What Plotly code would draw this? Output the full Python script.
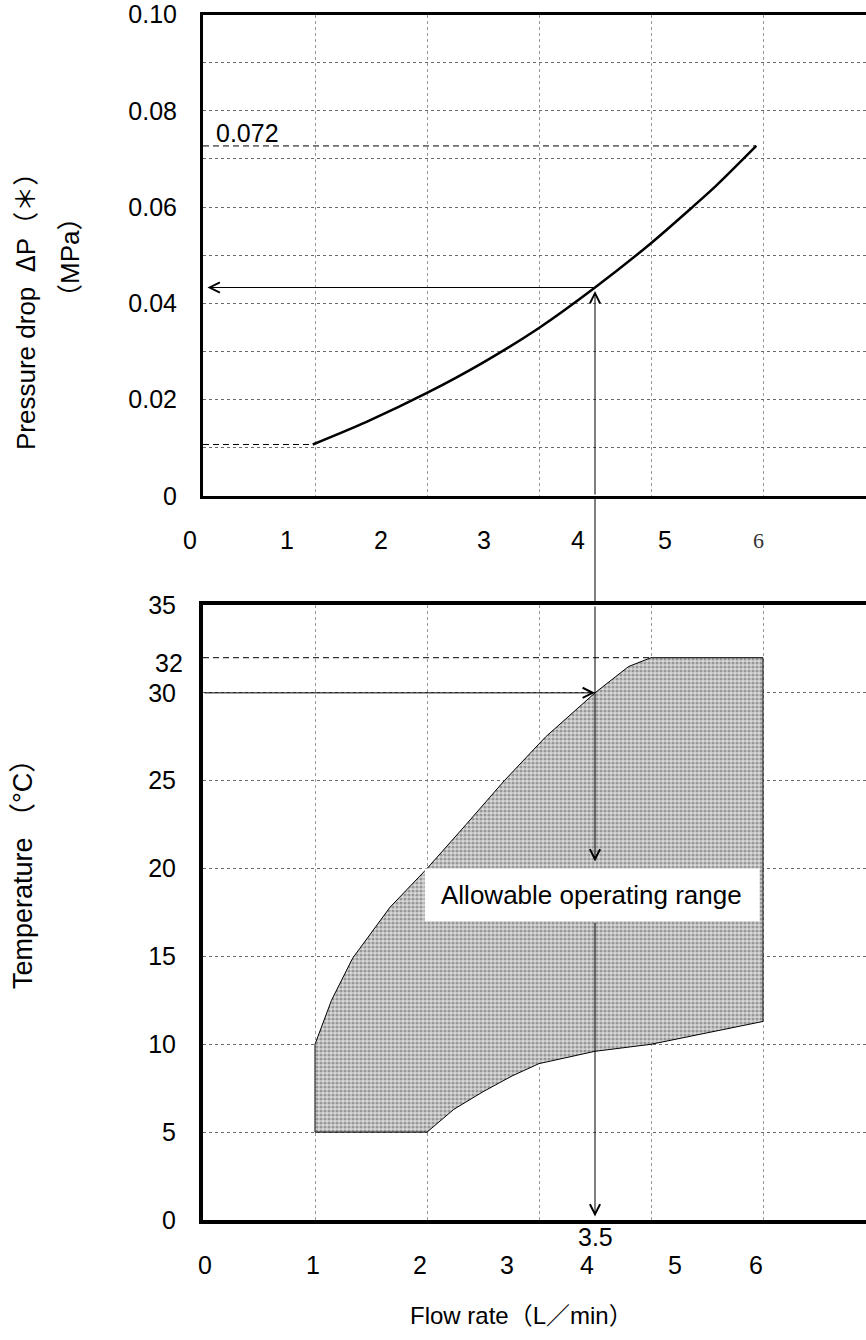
import plotly.graph_objects as go

# ---------------- data ----------------
# Flow positions are in the chart's own grid units (dotted gridlines at 1..5).
dp_flow = [0.98, 1.46, 2.0, 2.5, 3.0, 3.5, 4.0, 4.375, 4.58, 4.94]
dp_mpa = [0.0107, 0.0154, 0.0214, 0.0277, 0.0349, 0.0433, 0.0525, 0.0601, 0.0644, 0.0727]

range_upper_flow = [1.0, 1.0, 1.147, 1.336, 1.67, 2.0, 2.348, 2.69, 3.06, 3.5, 3.8, 4.0, 5.0]
range_upper_temp = [5.0, 10.0, 12.5, 14.9, 17.8, 20.0, 22.5, 25.0, 27.5, 30.0, 31.5, 32.0, 32.0]
range_lower_flow = [5.0, 4.0, 3.5, 3.0, 2.76, 2.5, 2.24, 2.0, 1.0]
range_lower_temp = [11.3, 10.0, 9.6, 8.9, 8.2, 7.3, 6.3, 5.0, 5.0]

grid_flow = [1, 2, 3, 4, 5]
dp_ticks = [0, 0.01, 0.02, 0.03, 0.04, 0.05, 0.06, 0.07, 0.08, 0.09, 0.10]
dp_ticktext = ["0", "", "0.02", "", "0.04", "", "0.06", "", "0.08", "", "0.10"]
temp_ticks = [0, 5, 10, 15, 20, 25, 30, 35]
temp_ticktext = ["0", "5", "10", "15", "20", "25", "30", "35"]

flow_labels = ["0", "1", "2", "3", "4", "5", "6"]
top_label_at = [0.0, 0.75, 1.59, 2.51, 3.35, 4.125, 4.96]
bottom_label_at = [0.0, 0.98, 1.94, 2.71, 3.43, 4.21, 4.94]

op_flow = 3.5          # operating point flow (grid units)
op_temp = 30           # operating temperature
op_dp = 0.0433         # resulting pressure drop
max_temp = 32
box_temp = [17.0, 20.0]

# ---------------- layout helpers ----------------
W, H = 866, 1340
FONT = "Liberation Sans, Arial, Noto Sans CJK JP, sans-serif"
FS = 25


def fx(p):
    return p / W


def fy(p):
    return 1 - p / H


X_RANGE = [0, (W - 203) / 112]
TOP_DOM = [fy(496), fy(14.5)]
BOT_DOM = [fy(1220), fy(605)]

fig = go.Figure()

# pressure drop curve
fig.add_trace(go.Scatter(x=dp_flow, y=dp_mpa, mode="lines",
                         line=dict(color="black", width=2.5, shape="spline", smoothing=0.8),
                         xaxis="x", yaxis="y", hoverinfo="skip"))
# dashed reference lines (top)
fig.add_trace(go.Scatter(x=[0, dp_flow[-1]], y=[dp_mpa[-1], dp_mpa[-1]], mode="lines",
                         line=dict(color="black", width=1, dash="6px,4px"),
                         xaxis="x", yaxis="y", hoverinfo="skip"))
fig.add_trace(go.Scatter(x=[0, dp_flow[0]], y=[dp_mpa[0], dp_mpa[0]], mode="lines",
                         line=dict(color="black", width=1, dash="6px,4px"),
                         xaxis="x", yaxis="y", hoverinfo="skip"))

# allowable operating range
fig.add_trace(go.Scatter(x=range_upper_flow + range_lower_flow,
                         y=range_upper_temp + range_lower_temp,
                         mode="lines", fill="toself",
                         line=dict(color="black", width=1),
                         fillcolor="#d2d2d2",
                         fillpattern=dict(shape=".", size=4, solidity=0.5,
                                          fgcolor="#555555", bgcolor="#d8d8d8"),
                         xaxis="x2", yaxis="y2", hoverinfo="skip"))
# dashed line at max temperature
fig.add_trace(go.Scatter(x=[0, range_upper_flow[11]], y=[max_temp, max_temp], mode="lines",
                         line=dict(color="black", width=1, dash="6px,4px"),
                         xaxis="x2", yaxis="y2", hoverinfo="skip"))

axis_common = dict(range=X_RANGE, domain=[fx(203), 1], tickvals=grid_flow,
                   showticklabels=False, ticks="", showgrid=True,
                   gridcolor="#9a9a9a", griddash="dot", gridwidth=1,
                   showline=True, linecolor="black", mirror=True, zeroline=False,
                   fixedrange=True)

yaxis_common = dict(ticks="", showgrid=True, gridcolor="#6a6a6a", griddash="dot", gridwidth=1,
                    showline=True, linecolor="black", mirror=False, zeroline=False,
                    ticklabelstandoff=18, tickfont=dict(size=FS), automargin=False,
                    ticklabeloverflow="allow", fixedrange=True)

fig.update_layout(
    width=W, height=H,
    margin=dict(l=0, r=0, t=0, b=0),
    paper_bgcolor="white", plot_bgcolor="white",
    showlegend=False,
    font=dict(family=FONT, size=FS, color="black"),
    xaxis=dict(**axis_common, anchor="y", linewidth=3),
    yaxis=dict(**yaxis_common, domain=TOP_DOM, range=[0, 0.1], tickvals=dp_ticks,
               ticktext=dp_ticktext, linewidth=3, anchor="x"),
    xaxis2=dict(**axis_common, anchor="y2", linewidth=4),
    yaxis2=dict(**yaxis_common, domain=BOT_DOM, range=[0, 35], tickvals=temp_ticks,
                ticktext=temp_ticktext, linewidth=4, anchor="x2"),
)

ann = []
arrow = dict(showarrow=True, arrowhead=5, arrowsize=2, arrowwidth=1, arrowcolor="black",
             text="", standoff=0)

# top: horizontal arrow to the pressure axis
ann.append(dict(arrow, x=0.04, y=op_dp, ax=op_flow, ay=op_dp, xref="x", yref="y",
                axref="x", ayref="y"))
# top: vertical arrow up to the curve
ann.append(dict(arrow, x=op_flow, y=op_dp - 0.0007, ax=op_flow, ay=0, xref="x", yref="y",
                axref="x", ayref="y"))
# bottom: horizontal arrow at operating temperature
ann.append(dict(arrow, x=op_flow, y=op_temp, ax=0, ay=op_temp, xref="x2", yref="y2",
                axref="x2", ayref="y2"))
# bottom: vertical arrows
ann.append(dict(arrow, x=op_flow, y=box_temp[1] + 0.4, ax=op_flow, ay=35, xref="x2", yref="y2",
                axref="x2", ayref="y2"))
ann.append(dict(arrow, x=op_flow, y=0.2, ax=op_flow, ay=box_temp[0], xref="x2", yref="y2",
                axref="x2", ayref="y2"))

# x tick labels (top & bottom)
for lab, pos in zip(flow_labels, top_label_at):
    f = dict(family=FONT, size=FS, color="black")
    xs = 0
    if lab == "0":
        xs = -13
    if lab == "6":
        f = dict(family="Liberation Serif, serif", size=22, color="#333333")
    ann.append(dict(text=lab, x=pos, y=fy(540), xref="x", yref="paper", xshift=xs,
                    showarrow=False, font=f, xanchor="center", yanchor="middle"))
for lab, pos in zip(flow_labels, bottom_label_at):
    xs = 2 if lab == "0" else 0
    ann.append(dict(text=lab, x=pos, y=fy(1265), xref="x2", yref="paper", xshift=xs,
                    showarrow=False, font=dict(family=FONT, size=FS, color="black"),
                    xanchor="center", yanchor="middle"))
ann.append(dict(text=str(op_flow), x=op_flow, y=fy(1237), xref="x2", yref="paper",
                showarrow=False, font=dict(family=FONT, size=FS, color="black"),
                xanchor="center", yanchor="middle"))

# extra y labels
ann.append(dict(text=str(max_temp), x=fx(185), y=max_temp, xref="paper", yref="y2",
                yshift=-5, showarrow=False, xanchor="right", yanchor="middle",
                font=dict(family=FONT, size=FS, color="black")))
ann.append(dict(text="0.072", x=0.1, y=dp_mpa[-1], xref="x", yref="y", yshift=13,
                showarrow=False, xanchor="left", yanchor="middle",
                font=dict(family=FONT, size=FS, color="black")))

# range label with white box
fig.add_shape(type="rect", x0=1.98, x1=4.97, y0=box_temp[0], y1=box_temp[1],
              xref="x2", yref="y2", fillcolor="white", line=dict(width=0), layer="above")
ann.append(dict(text="Allowable operating range", x=3.47, y=sum(box_temp) / 2,
                xref="x2", yref="y2", showarrow=False, xanchor="center", yanchor="middle",
                font=dict(family=FONT, size=26, color="black")))

# connector of the vertical arrow through the gap between charts
fig.add_shape(type="line", x0=op_flow, x1=op_flow, y0=BOT_DOM[1], y1=TOP_DOM[0],
              xref="x", yref="paper", line=dict(color="black", width=1))

# axis titles
title_font = dict(family=FONT, size=26, color="black")
ann.append(dict(text="Pressure drop  <span style='font-family:Noto Sans CJK JP'>Δ</span>P（＊）",
                x=fx(23), y=fy(305), xref="paper", yref="paper",
                xanchor="center", yanchor="middle",
                textangle=-90, showarrow=False, font=title_font))
ann.append(dict(text="（MPa）", x=fx(70), y=fy(258), xref="paper", yref="paper",
                xanchor="center", yanchor="middle",
                textangle=-90, showarrow=False, font=title_font))
ann.append(dict(text="Temperature （°C）", x=fx(23), y=fy(868), xref="paper", yref="paper",
                xanchor="center", yanchor="middle",
                textangle=-90, showarrow=False, font=dict(family=FONT, size=27, color="black")))
ann.append(dict(text="Flow rate（L／min）", x=fx(521), y=fy(1315), xref="paper", yref="paper",
                xanchor="center", yanchor="middle",
                showarrow=False, font=dict(family=FONT, size=24, color="black")))

fig.update_layout(annotations=ann)

fig.write_html("out.html",
               config={"displayModeBar": False, "staticPlot": True},
               post_script="document.body.style.margin='0';document.body.style.overflow='hidden';")
